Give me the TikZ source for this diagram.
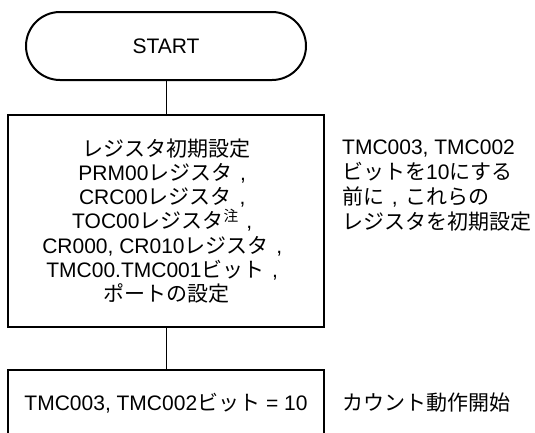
\documentclass[tikz,border=0pt]{standalone}
\usepackage{fontspec}
\setmainfont{Liberation Sans}
\newfontfamily\jp{Noto Sans CJK JP}
\newcommand{\J}[1]{{\jp #1}}
\newcommand{\fc}{\hbox to 1em{\hss,\hss}}
\begin{document}
\begin{tikzpicture}[x=1pt,y=-1pt,
  every node/.style={font=\fontsize{21pt}{24.3pt}\selectfont, inner sep=0pt},
  boxstyle/.style={draw, line width=2pt, minimum width=316.5pt, align=center},
  termstyle/.style={draw, line width=2pt, rounded corners=34pt, minimum width=280pt, minimum height=68pt},
  conn/.style={line width=0.8pt},
  note/.style={anchor=west, align=left, font=\fontsize{21pt}{25pt}\selectfont}]
\useasboundingbox (0,0) rectangle (535,432);
\begin{scope}
\clip (0,0) rectangle (535,432);
\node[termstyle] (start) at (166,46) {START};
\node[boxstyle, minimum height=212pt] (init) at (166,221) {\J{レジスタ初期設定}\\
PRM00\J{レジスタ}\fc\\
CRC00\J{レジスタ}\fc\\
TOC00\J{レジスタ}\textsuperscript{\J{注}}\fc\\
CR000, CR010\J{レジスタ}\fc\\
TMC00.TMC001\J{ビット}\fc\\
\J{ポートの設定}};
\node[boxstyle, minimum height=66pt] (run) at (166,403) {TMC003, TMC002\J{ビット} = 10};
\draw[conn] (start) -- (init);
\draw[conn] (init) -- (run);
\end{scope}
\node[note] (n1) at (342,185.5) {TMC003, TMC002\\
\J{ビットを}10\J{にする}\\
\J{前に}\fc\J{これらの}\\
\J{レジスタを初期設定}};
\node[note] (n2) at (342,403) {\J{カウント動作開始}};
\end{tikzpicture}
\end{document}
